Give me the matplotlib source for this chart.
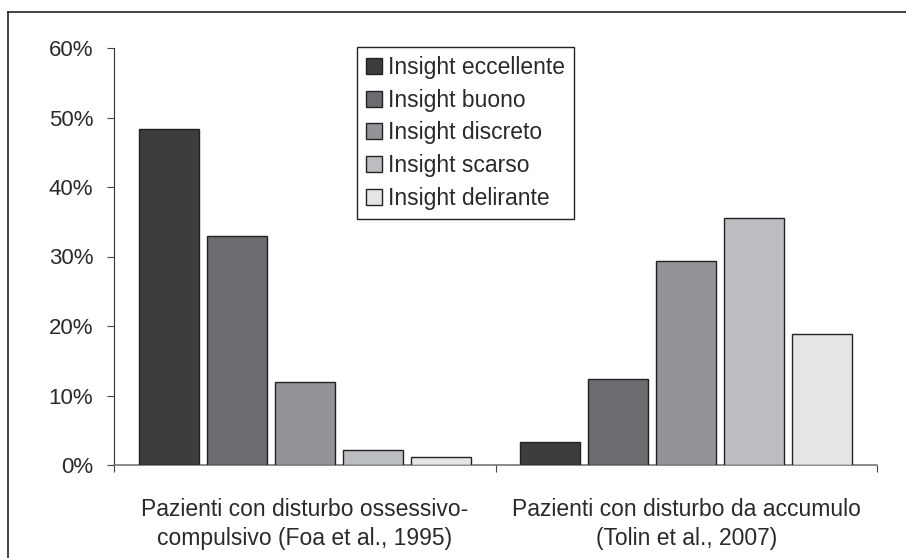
import numpy as np
import matplotlib
matplotlib.use("Agg")
import matplotlib.pyplot as plt
from matplotlib.lines import Line2D

plt.rcParams['font.family'] = ['Liberation Sans', 'DejaVu Sans']

groups = ["Pazienti con disturbo ossessivo-\ncompulsivo (Foa et al., 1995)",
          "Pazienti con disturbo da accumulo\n(Tolin et al., 2007)"]
levels = ["Insight eccellente", "Insight buono", "Insight discreto",
          "Insight scarso", "Insight delirante"]
ocd = [48.3, 33.0, 12.0, 2.2, 1.1]
hoarding = [3.3, 12.4, 29.4, 35.5, 18.9]
colors = ["#3d3d3d", "#6b6c70", "#939498", "#bcbdc0", "#e4e5e6"]

fig = plt.figure(figsize=(9.06, 5.58), dpi=100)
ax = fig.add_axes([114/906, 1 - 465/558, 763/906, 417/558])

centers = np.array([0.5, 1.5])
step = 0.178
width = 0.157
for i, lev in enumerate(levels):
    vals = [ocd[i], hoarding[i]]
    ax.bar(centers + (i - 2) * step, vals, width, color=colors[i],
           edgecolor="#222222", linewidth=1.0, label=lev, zorder=3)

ax.set_xlim(0, 2)
ax.set_ylim(0, 60)
ax.set_yticks(range(0, 61, 10))
ax.set_yticklabels([f"{v}%" for v in range(0, 61, 10)])
ax.set_xticks([0, 1, 2])
ax.set_xticklabels(["", "", ""])
ax.set_xticks(centers, minor=True)
ax.set_xticklabels(groups, minor=True, linespacing=1.3)
ax.tick_params(axis="x", which="minor", length=0, pad=24, labelsize=16.5,
               labelcolor="#2a2a2a")
ax.tick_params(axis="x", which="major", length=5, direction="out", color="#444444")
ax.tick_params(axis="y", length=5, direction="out", labelsize=16, pad=10,
               color="#444444", labelcolor="#2a2a2a")

for s in ["top", "right"]:
    ax.spines[s].set_visible(False)
ax.spines["left"].set_color("#333333")
ax.spines["bottom"].set_color("#777777")
ax.spines["bottom"].set_linewidth(1.2)

leg = ax.legend(loc="upper left", bbox_to_anchor=(357/906, 1 - 47/558),
                bbox_transform=fig.transFigure, fancybox=False,
                edgecolor="#222222", framealpha=1, fontsize=16.5,
                handlelength=0.7, handleheight=0.7, handletextpad=0.25,
                labelspacing=0.42, borderpad=0.4, borderaxespad=0)
leg.get_frame().set_linewidth(1.0)
for t in leg.get_texts():
    t.set_color("#2a2a2a")

# figure border (top and left visible)
fig.add_artist(Line2D([8/906, 8/906], [0, 1 - 12/558], transform=fig.transFigure,
                      color="#222222", linewidth=1.2))
fig.add_artist(Line2D([8/906, 1], [1 - 12/558, 1 - 12/558], transform=fig.transFigure,
                      color="#222222", linewidth=1.2))

fig.savefig("out.png", dpi=100)
